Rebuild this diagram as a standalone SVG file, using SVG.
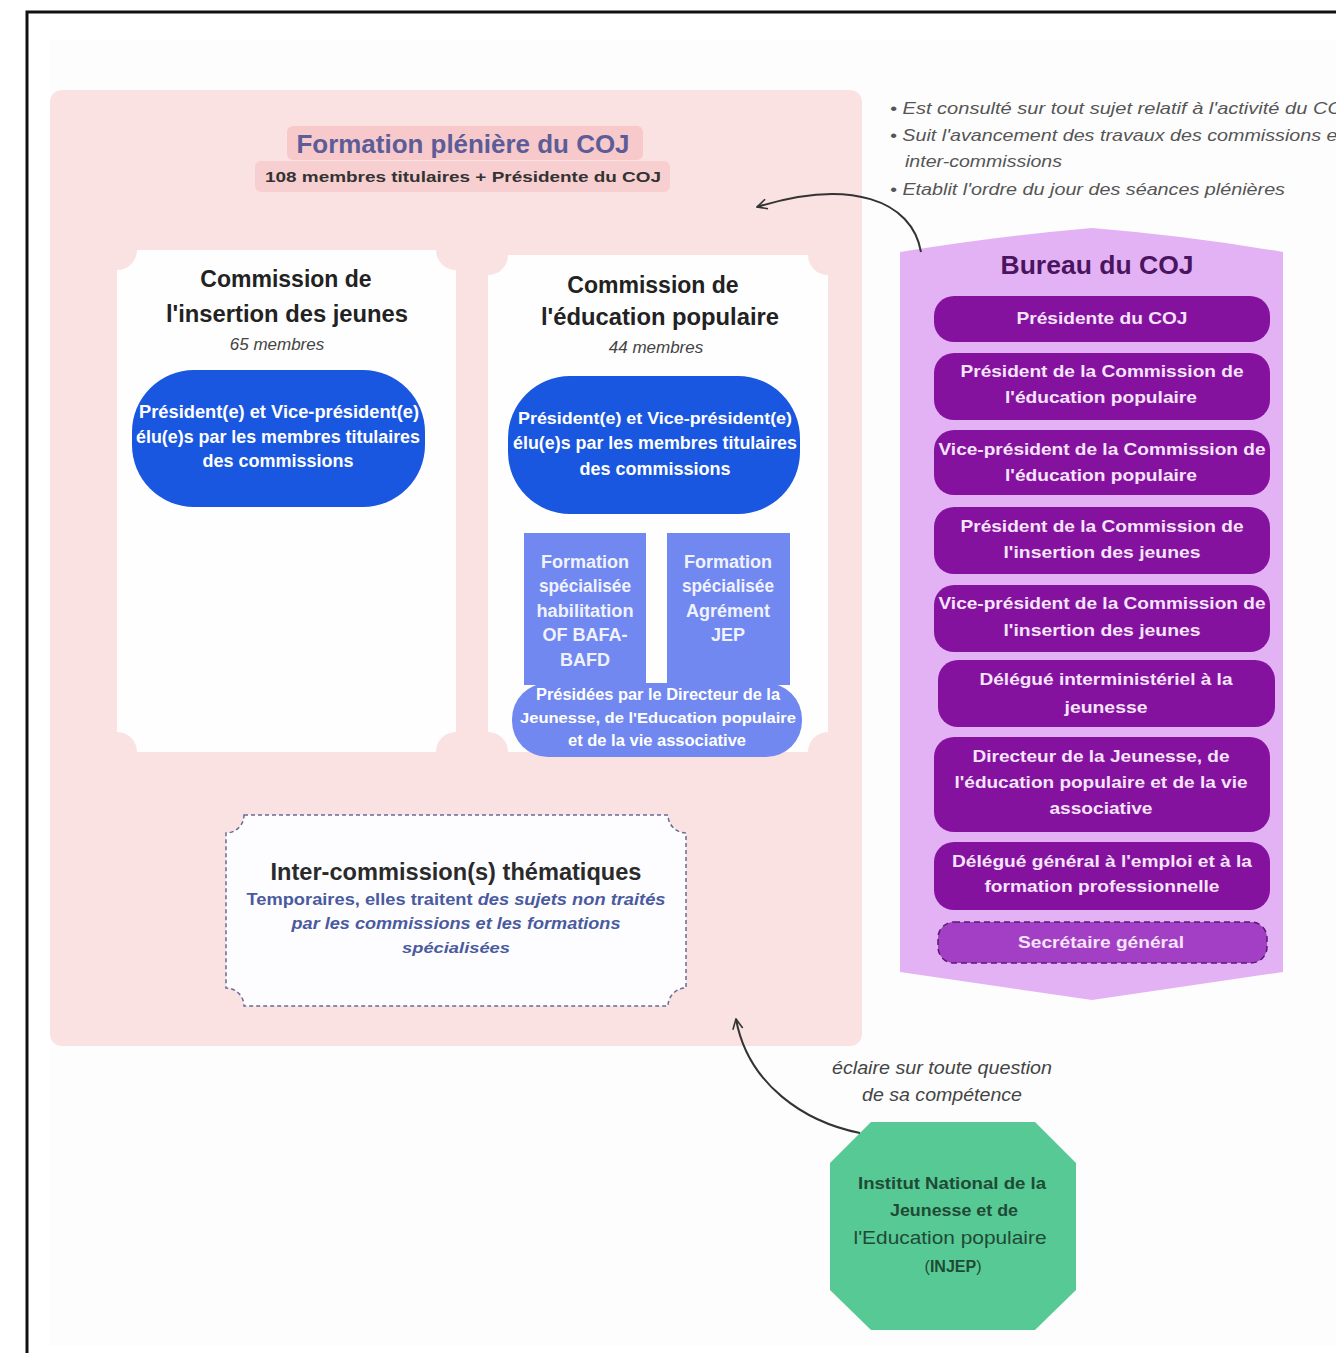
<svg xmlns="http://www.w3.org/2000/svg" width="1336" height="1353" viewBox="0 0 1336 1353">
<defs>
<style>
text{font-family:"Liberation Sans","DejaVu Sans",sans-serif;}
.wb{fill:#ffffff;font-weight:bold;text-anchor:middle;}
.bul{fill:#555;font-style:italic;font-size:17px;}
.it{font-style:italic;}
.bitem{fill:#84129f;}
.ctitle{fill:#222;font-weight:bold;font-size:23px;text-anchor:middle;}
.mem{fill:#444;font-style:italic;font-size:17px;text-anchor:middle;}
.spec{fill:#7088f0;}
.spectx{fill:#f0f3ff;font-size:18px;font-weight:bold;text-anchor:middle;}
.bt{fill:#f6e4fb;font-weight:bold;text-anchor:middle;font-size:17px;}
</style>
<marker id="ah" viewBox="0 0 12 12" refX="11" refY="6" markerWidth="12" markerHeight="12" markerUnits="userSpaceOnUse" orient="auto">
<path d="M1,1 L11,6 L1,11" fill="none" stroke="#333" stroke-width="1.6"/>
</marker>
</defs>
<rect x="0" y="0" width="1336" height="1353" fill="#ffffff"/>
<rect x="50" y="40" width="1286" height="1306" fill="#fdfdfd"/>
<path d="M27 1353 V12 H1336" fill="none" stroke="#111" stroke-width="3"/>

<g id="pleniere">
<rect x="50" y="90" width="812" height="956" rx="12" fill="#fbe2e2"/>
<rect x="287" y="126" width="356" height="34" rx="6" fill="#f7c9cb"/>
<rect x="255" y="161" width="415" height="31" rx="6" fill="#f7cfd0"/>
<text x="463" y="153" font-size="26" font-weight="bold" fill="#5c5c98" text-anchor="middle" textLength="333" lengthAdjust="spacingAndGlyphs">Formation plénière du COJ</text>
<text x="463" y="182" font-size="15" font-weight="bold" fill="#333" text-anchor="middle" textLength="396" lengthAdjust="spacingAndGlyphs">108 membres titulaires + Présidente du COJ</text>
</g>

<g id="commission-insertion">
<path d="M137 250 H436 A20 20 0 0 0 456 270 V732 A20 20 0 0 0 436 752 H137 A20 20 0 0 0 117 732 V270 A20 20 0 0 0 137 250 Z" fill="#fefefe"/>
<text class="ctitle" x="286" y="287">Commission de</text>
<text class="ctitle" x="287" y="322" textLength="242" lengthAdjust="spacingAndGlyphs">l'insertion des jeunes</text>
<text class="mem" x="277" y="350">65 membres</text>
<rect x="132" y="370" width="293" height="137" rx="62" fill="#1a57e0"/>
<text class="wb" font-size="18" x="279" y="418" textLength="280" lengthAdjust="spacingAndGlyphs">Président(e) et Vice-président(e)</text>
<text class="wb" font-size="18" x="278" y="443" textLength="284" lengthAdjust="spacingAndGlyphs">élu(e)s par les membres titulaires</text>
<text class="wb" font-size="18" x="278" y="467">des commissions</text>
</g>

<g id="commission-education">
<path d="M508 255 H808 A20 20 0 0 0 828 275 V732 A20 20 0 0 0 808 752 H508 A20 20 0 0 0 488 732 V275 A20 20 0 0 0 508 255 Z" fill="#fefefe"/>
<text class="ctitle" x="653" y="293">Commission de</text>
<text class="ctitle" x="660" y="325" textLength="238" lengthAdjust="spacingAndGlyphs">l'éducation populaire</text>
<text class="mem" x="656" y="353">44 membres</text>
<rect x="508" y="376" width="292" height="138" rx="62" fill="#1a57e0"/>
<text class="wb" font-size="17" x="655" y="424" textLength="274" lengthAdjust="spacingAndGlyphs">Président(e) et Vice-président(e)</text>
<text class="wb" font-size="18" x="655" y="449" textLength="284" lengthAdjust="spacingAndGlyphs">élu(e)s par les membres titulaires</text>
<text class="wb" font-size="18" x="655" y="475">des commissions</text>
</g>

<g id="formation-bafa">
<rect class="spec" x="524" y="533" width="122" height="152"/>
<text class="spectx" x="585" y="568">Formation</text>
<text class="spectx" x="585" y="592" textLength="92" lengthAdjust="spacingAndGlyphs">spécialisée</text>
<text class="spectx" x="585" y="617" textLength="97" lengthAdjust="spacingAndGlyphs">habilitation</text>
<text class="spectx" x="585" y="641">OF BAFA-</text>
<text class="spectx" x="585" y="666">BAFD</text>
</g>
<g id="formation-jep">
<rect class="spec" x="667" y="533" width="123" height="152"/>
<text class="spectx" x="728" y="568">Formation</text>
<text class="spectx" x="728" y="592" textLength="92" lengthAdjust="spacingAndGlyphs">spécialisée</text>
<text class="spectx" x="728" y="617">Agrément</text>
<text class="spectx" x="728" y="641">JEP</text>
</g>
<g id="presidees">
<rect class="spec" x="512" y="683" width="290" height="74" rx="36"/>
<text class="wb" font-size="16" x="658" y="700" fill="#f0f3ff" textLength="244" lengthAdjust="spacingAndGlyphs">Présidées par le Directeur de la</text>
<text class="wb" font-size="14" x="658" y="723" fill="#f0f3ff" textLength="276" lengthAdjust="spacingAndGlyphs">Jeunesse, de l'Education populaire</text>
<text class="wb" font-size="16" x="657" y="746" fill="#f0f3ff" textLength="178" lengthAdjust="spacingAndGlyphs">et de la vie associative</text>
</g>

<g id="inter-commission">
<path d="M244 815 H668 A18 18 0 0 0 686 833 V988 A18 18 0 0 0 668 1006 H244 A18 18 0 0 0 226 988 V833 A18 18 0 0 0 244 815 Z" fill="#fdfdff" stroke="#6a6a96" stroke-width="1.5" stroke-dasharray="4 3"/>
<text x="456" y="880" font-size="23" font-weight="bold" fill="#2a2a2a" text-anchor="middle" textLength="371" lengthAdjust="spacingAndGlyphs">Inter-commission(s) thématiques</text>
<text x="456" y="905" font-size="17" font-weight="bold" fill="#4a5a9e" text-anchor="middle" textLength="419" lengthAdjust="spacingAndGlyphs">Temporaires, elles traitent <tspan class="it">des sujets non traités</tspan></text>
<text x="456" y="929" font-size="17" font-weight="bold" fill="#4a5a9e" text-anchor="middle" class="it" textLength="329" lengthAdjust="spacingAndGlyphs">par les commissions et les formations</text>
<text x="456" y="953" font-size="15" font-weight="bold" fill="#4a5a9e" text-anchor="middle" class="it" textLength="108" lengthAdjust="spacingAndGlyphs">spécialisées</text>
</g>

<g id="bureau-notes">
<text class="bul" x="890" y="114" textLength="463" lengthAdjust="spacingAndGlyphs">• Est consulté sur tout sujet relatif à l'activité du COJ</text>
<text class="bul" x="890" y="141" textLength="453" lengthAdjust="spacingAndGlyphs">• Suit l'avancement des travaux des commissions et</text>
<text class="bul" x="905" y="167" textLength="157" lengthAdjust="spacingAndGlyphs">inter-commissions</text>
<text class="bul" x="890" y="195" textLength="395" lengthAdjust="spacingAndGlyphs">• Etablit l'ordre du jour des séances plénières</text>
</g>

<g id="bureau">
<path d="M900 252 Q1000 236 1092 228 Q1190 236 1283 252 V972 L1092 1000 L900 972 Z" fill="#e3b2f5"/>
<text x="1097" y="274" font-size="26" font-weight="bold" fill="#4a1460" text-anchor="middle" textLength="193" lengthAdjust="spacingAndGlyphs">Bureau du COJ</text>
<rect class="bitem" x="934" y="296" width="336" height="46" rx="20"/>
<text class="bt" font-size="15" x="1102" y="324" textLength="171" lengthAdjust="spacingAndGlyphs">Présidente du COJ</text>
<rect class="bitem" x="934" y="353" width="336" height="67" rx="20"/>
<text class="bt" x="1102" y="377" textLength="283" lengthAdjust="spacingAndGlyphs">Président de la Commission de</text>
<text class="bt" x="1101" y="403" textLength="192" lengthAdjust="spacingAndGlyphs">l'éducation populaire</text>
<rect class="bitem" x="934" y="430" width="336" height="65" rx="20"/>
<text class="bt" x="1102" y="455" textLength="327" lengthAdjust="spacingAndGlyphs">Vice-président de la Commission de</text>
<text class="bt" x="1101" y="481" textLength="192" lengthAdjust="spacingAndGlyphs">l'éducation populaire</text>
<rect class="bitem" x="934" y="507" width="336" height="67" rx="20"/>
<text class="bt" x="1102" y="532" textLength="283" lengthAdjust="spacingAndGlyphs">Président de la Commission de</text>
<text class="bt" x="1102" y="558" textLength="197" lengthAdjust="spacingAndGlyphs">l'insertion des jeunes</text>
<rect class="bitem" x="934" y="585" width="336" height="67" rx="20"/>
<text class="bt" x="1102" y="609" textLength="327" lengthAdjust="spacingAndGlyphs">Vice-président de la Commission de</text>
<text class="bt" x="1102" y="636" textLength="197" lengthAdjust="spacingAndGlyphs">l'insertion des jeunes</text>
<rect class="bitem" x="938" y="660" width="337" height="67" rx="20"/>
<text class="bt" x="1106" y="685" textLength="253" lengthAdjust="spacingAndGlyphs">Délégué interministériel à la</text>
<text class="bt" x="1106" y="713" textLength="83" lengthAdjust="spacingAndGlyphs">jeunesse</text>
<rect class="bitem" x="934" y="737" width="336" height="95" rx="20"/>
<text class="bt" x="1101" y="762" textLength="257" lengthAdjust="spacingAndGlyphs">Directeur de la Jeunesse, de</text>
<text class="bt" x="1101" y="788" textLength="293" lengthAdjust="spacingAndGlyphs">l'éducation populaire et de la vie</text>
<text class="bt" x="1101" y="814" textLength="103" lengthAdjust="spacingAndGlyphs">associative</text>
<rect class="bitem" x="934" y="842" width="336" height="68" rx="20"/>
<text class="bt" x="1102" y="867" textLength="300" lengthAdjust="spacingAndGlyphs">Délégué général à l'emploi et à la</text>
<text class="bt" x="1102" y="892" textLength="235" lengthAdjust="spacingAndGlyphs">formation professionnelle</text>
<rect x="938" y="922" width="329" height="41" rx="16" fill="#a33fc4" stroke="#5a1870" stroke-width="1.5" stroke-dasharray="6 4"/>
<text class="bt" x="1101" y="948" textLength="166" lengthAdjust="spacingAndGlyphs">Secrétaire général</text>
</g>

<g id="injep">
<path d="M871 1122 H1035 L1076 1163 V1290 L1035 1330 H871 L830 1290 V1163 Z" fill="#57c994"/>
<text x="952" y="1189" font-size="16" font-weight="bold" fill="#1f4a36" text-anchor="middle" textLength="188" lengthAdjust="spacingAndGlyphs">Institut National de la</text>
<text x="954" y="1216" font-size="16" font-weight="bold" fill="#1f4a36" text-anchor="middle" textLength="128" lengthAdjust="spacingAndGlyphs">Jeunesse et de</text>
<text x="950" y="1244" font-size="19" fill="#1f4a36" text-anchor="middle" textLength="193" lengthAdjust="spacingAndGlyphs">l'Education populaire</text>
<text x="953" y="1272" font-size="16" fill="#1f4a36" text-anchor="middle">(<tspan font-weight="bold">INJEP</tspan>)</text>
</g>

<g id="connectors">
<path d="M921 252 C912 200 850 178 757 207" fill="none" stroke="#333" stroke-width="2" marker-end="url(#ah)"/>
<path d="M860 1133 C805 1122 748 1085 736 1019" fill="none" stroke="#333" stroke-width="2" marker-end="url(#ah)"/>
<text x="942" y="1074" font-size="18" fill="#444" class="it" text-anchor="middle" textLength="220" lengthAdjust="spacingAndGlyphs">éclaire sur toute question</text>
<text x="942" y="1101" font-size="18" fill="#444" class="it" text-anchor="middle" textLength="160" lengthAdjust="spacingAndGlyphs">de sa compétence</text>
</g>
</svg>
